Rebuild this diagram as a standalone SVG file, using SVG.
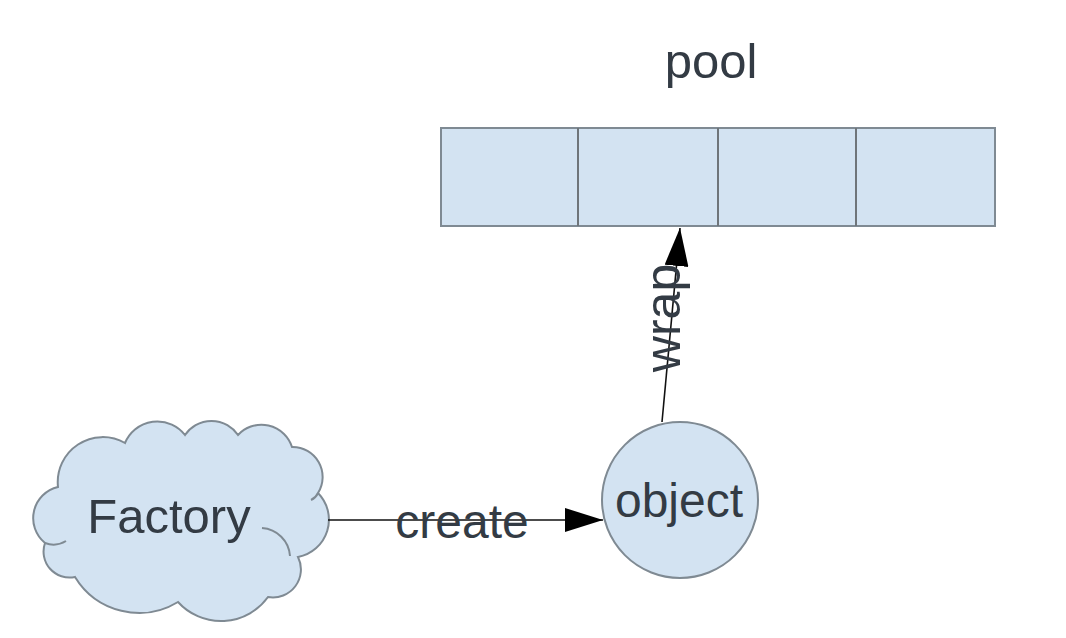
<svg xmlns="http://www.w3.org/2000/svg" width="1066" height="638" viewBox="0 0 1066 638">
<style>
.shape{fill:#d3e3f2;stroke:#7f8a93;stroke-width:2}
.inner{fill:none;stroke:#7f8a93;stroke-width:2}
.lbl{font-family:"Liberation Sans",Arial,sans-serif;fill:#333b44}
.conn{stroke:#111;stroke-width:1.6;fill:none}
</style>
<defs>
<marker id="ah" markerUnits="userSpaceOnUse" markerWidth="40" markerHeight="24" refX="38" refY="12" orient="auto">
<path d="M0,0 L38,12 L0,24 Z" fill="#000"/>
</marker>
</defs>
<rect width="1066" height="638" fill="#fff"/>
<g id="pool">
<text class="lbl" x="711" y="78" font-size="49" text-anchor="middle">pool</text>
<rect class="shape" x="441" y="128" width="554" height="98"/>
<line x1="578" y1="128" x2="578" y2="226" stroke="#6f757a" stroke-width="2"/>
<line x1="718" y1="128" x2="718" y2="226" stroke="#6f757a" stroke-width="2"/>
<line x1="856" y1="128" x2="856" y2="226" stroke="#6f757a" stroke-width="2"/>
</g>
<g id="factory">
<path class="shape" d="M45,543 A32,32 0 0 1 58,487 A45,45 0 0 1 125,443 A35,35 0 0 1 185,435 A32,32 0 0 1 238,435 A32,32 0 0 1 292,447 A30,30 0 0 1 318,493 A38,38 0 0 1 298,557 A28,28 0 0 1 268,597 A58,58 0 0 1 178,602 A75,75 0 0 1 75,577 A26,26 0 0 1 45,543 Z"/>
<path class="inner" d="M262,528 A30,30 0 0 1 290,556"/>
<path class="inner" d="M45,543 A24,24 0 0 0 66,541"/>
<path class="inner" d="M318,493 A14,14 0 0 1 311,500"/>
<text class="lbl" x="169" y="533" font-size="49" text-anchor="middle">Factory</text>
</g>
<g id="object">
<circle class="shape" cx="680" cy="500" r="78"/>
<text class="lbl" x="679" y="517" font-size="48" text-anchor="middle">object</text>
</g>
<g id="connectors">
<line class="conn" x1="328" y1="520" x2="603" y2="520" marker-end="url(#ah)"/>
<text class="lbl" x="462" y="538" font-size="48" text-anchor="middle">create</text>
<line class="conn" x1="662" y1="422" x2="680" y2="228" marker-end="url(#ah)"/>
<text class="lbl" x="0" y="0" font-size="50" text-anchor="middle" transform="translate(680,318) rotate(-90)" fill="#222">wrap</text>
</g>
</svg>
